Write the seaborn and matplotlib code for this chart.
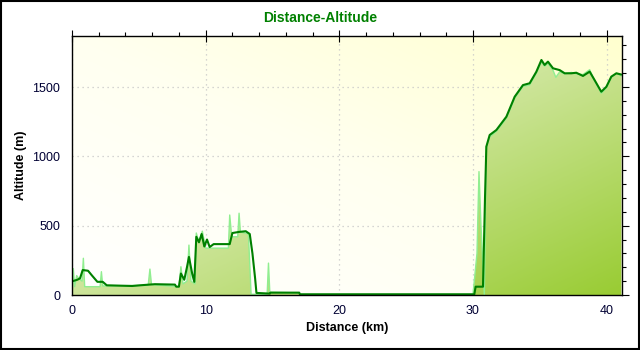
import numpy as np
import pandas as pd
import matplotlib
matplotlib.use("Agg")
import matplotlib.pyplot as plt
import seaborn as sns
from matplotlib.colors import LinearSegmentedColormap
from matplotlib.ticker import MultipleLocator

# ---- data ----
dark_km = [0.05, 0.4, 0.6, 0.8, 1.2, 1.5, 1.9, 2.3, 2.6, 4.5, 5.1, 6.2, 7.7, 7.8, 8.0,
           8.15, 8.4, 8.6, 8.75, 9.0, 9.15, 9.3, 9.5, 9.7, 9.9, 10.1, 10.3, 10.6, 11.8,
           12.0, 12.5, 13.0, 13.3, 13.5, 13.7, 13.8, 14.8, 14.85, 17.0, 17.05, 30.1,
           30.2, 30.75, 30.9, 31.0, 31.25, 31.75, 32.5, 33.12, 33.74, 34.24, 34.74,
           35.12, 35.36, 35.61, 35.99, 36.49, 36.86, 37.36, 37.73, 38.23, 38.73, 39.1,
           39.6, 39.98, 40.35, 40.73, 41.1]
dark_alt = [100, 110, 120, 180, 175, 140, 95, 95, 70, 65, 70, 78, 75, 60, 60,
            155, 110, 200, 275, 150, 95, 420, 380, 440, 350, 400, 346, 367, 367,
            447, 455, 460, 440, 300, 120, 15, 10, 17, 17, 5, 5,
            60, 60, 700, 1070, 1154, 1190, 1286, 1430, 1514, 1527, 1610,
            1695, 1659, 1683, 1635, 1622, 1599, 1599, 1603, 1580, 1611, 1550,
            1466, 1502, 1575, 1599, 1590]

light_km = [0.0, 0.1, 0.2, 0.35, 0.5, 0.75, 0.85, 0.95, 2.1, 2.2, 2.3, 5.7, 5.83, 5.95,
            8.0, 8.15, 8.3, 8.6, 8.75, 8.9, 9.2, 9.3, 9.5, 9.75, 10.0, 11.7, 11.8, 11.95,
            12.4, 12.5, 12.6, 13.2, 13.4, 14.6, 14.7, 14.8, 17.0, 17.05, 30.0, 30.3,
            30.45, 30.6, 30.85, 31.0, 31.25, 31.75, 32.5, 33.12, 33.74, 34.24, 34.74,
            35.12, 35.36, 35.61, 35.99, 36.2, 36.49, 36.86, 37.36, 37.73, 38.23, 38.73,
            39.1, 39.6, 39.98, 40.35, 40.73, 41.1]
light_alt = [0, 190, 60, 140, 120, 100, 265, 60, 60, 168, 65, 70, 187, 75,
             60, 204, 80, 100, 360, 100, 80, 447, 380, 460, 338, 338, 577, 420,
             420, 590, 455, 440, 5, 5, 230, 20, 15, 5, 5, 300,
             890, 500, 0, 1070, 1140, 1180, 1275, 1420, 1505, 1515, 1600,
             1680, 1650, 1670, 1620, 1570, 1610, 1595, 1605, 1595, 1590, 1625,
             1545, 1455, 1495, 1570, 1600, 1580]

x_ticks = [0, 10, 20, 30, 40]
y_ticks = [0, 500, 1000, 1500]

dark_df = pd.DataFrame({"Distance": dark_km, "Altitude": dark_alt})
light_df = pd.DataFrame({"Distance": light_km, "Altitude": light_alt})

sns.set_style("white")
plt.rcParams["font.family"] = ["Liberation Sans", "DejaVu Sans"]

fig = plt.figure(figsize=(6.4, 3.5), dpi=100)
ax = fig.add_axes([72 / 640, 55 / 350, 550 / 640, 259 / 350])
xmax, ymax = 41.15, 1868
ax.set_xlim(0, xmax)
ax.set_ylim(0, ymax)

# background gradient
gx, gy = np.meshgrid(np.linspace(0, 1, 200), np.linspace(0, 1, 200))
tb = np.clip((gx + gy) / 2, 0, 1)
bg_cmap = LinearSegmentedColormap.from_list("bg", ["#ffffff", "#fffff0", "#ffffcf"])
ax.imshow(tb, cmap=bg_cmap, origin="lower", extent=[0, xmax, 0, ymax],
          aspect="auto", zorder=0.1, vmin=0, vmax=1)

# area fill with gradient (pale top-left -> strong green bottom-right)
poly = ax.fill_between(light_df["Distance"], light_df["Altitude"], 0,
                       facecolor="none", edgecolor="none", zorder=1)
tf = np.clip((gx + (1 - gy)) / 2, 0, 1)
fill_cmap = LinearSegmentedColormap.from_list("fill", ["#f4f8dc", "#cde59a", "#99cc33"])
im = ax.imshow(tf, cmap=fill_cmap, origin="lower", extent=[0, xmax, 0, ymax],
               aspect="auto", zorder=1, vmin=0, vmax=1)
path = poly.get_paths()[0]
im.set_clip_path(path, transform=ax.transData)

sns.lineplot(data=light_df, x="Distance", y="Altitude", ax=ax, color="#90ee90",
             linewidth=1.0, zorder=3, estimator=None, sort=False)
sns.lineplot(data=dark_df, x="Distance", y="Altitude", ax=ax, color="#008000",
             linewidth=1.5, zorder=4, estimator=None, sort=False)

ax.set_xticks(x_ticks)
ax.set_yticks(y_ticks)
ax.xaxis.set_minor_locator(MultipleLocator(2))
ax.yaxis.set_minor_locator(MultipleLocator(100))
ax.set_axisbelow(True)
ax.grid(True, which="major", color="#c8c8c8", linestyle=(0, (1, 3)), linewidth=0.9)

ax.tick_params(axis="both", which="both", labelsize=9, labelcolor="#000033", color="black")
ax.tick_params(axis="x", which="major", direction="inout", length=8, width=0.8, top=True)
ax.tick_params(axis="x", which="minor", direction="out", length=3, width=0.8, top=True)
ax.tick_params(axis="y", which="major", direction="out", length=5, width=0.8, right=True)
ax.tick_params(axis="y", which="minor", direction="out", length=3, width=0.8, right=True)
for s in ax.spines.values():
    s.set_visible(True)
    s.set_color("black")
    s.set_linewidth(1.0)
    s.set_zorder(5)

ax.set_xlabel("Distance (km)", fontsize=9, fontweight="bold", color="#000000", labelpad=3)
ax.set_ylabel("Altitude (m)", fontsize=9, fontweight="bold", color="#000000", labelpad=4)
fig.text(0.5, 1 - 18 / 350, "Distance-Altitude", ha="center", va="center",
         fontsize=10, fontweight="bold", color="#008000")

# figure border
fig.patches.append(plt.Rectangle((0.0015, 0.003), 0.997, 0.994, transform=fig.transFigure,
                                 fill=False, edgecolor="black", linewidth=1.5))

fig.savefig("out.png", dpi=100)
